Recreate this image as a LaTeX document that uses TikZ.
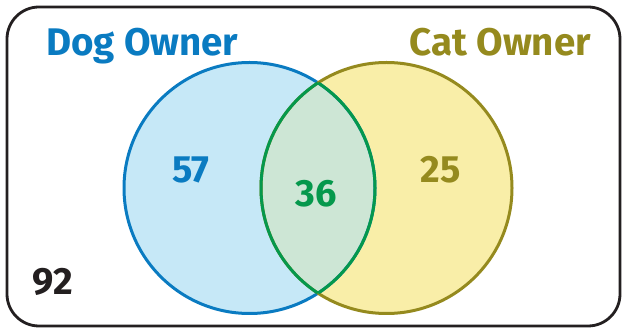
\documentclass[tikz,border=0pt]{standalone}
\usepackage{fontspec}
\setmainfont{Fira Sans}
\definecolor{dogblue}{HTML}{0A7BC1}
\definecolor{dogfill}{HTML}{C6E8F7}
\definecolor{catolive}{HTML}{958A1E}
\definecolor{catfill}{HTML}{F9EEA8}
\definecolor{bothgreen}{HTML}{05984C}
\definecolor{bothfill}{HTML}{CDE6D5}
\definecolor{nonecol}{HTML}{231F20}
\begin{document}
\begin{tikzpicture}[x=1pt,y=1pt,
  setcircle/.style={circle, minimum size=251pt, inner sep=0pt, line width=3pt},
  lbl/.style={font=\fontsize{38.5}{42}\selectfont\bfseries, inner sep=0pt},
  num/.style={font=\fontsize{38}{40}\selectfont\bfseries, inner sep=0pt}]
\useasboundingbox (0,0) rectangle (624,329);
\node[draw=nonecol, line width=2.8pt, rounded corners=32pt, minimum width=613pt, minimum height=319pt, inner sep=0pt] (frame) at (313.5,162.5) {};
\node[setcircle, fill=dogfill] (dog) at (249.5,141) {};
\node[setcircle, fill=catfill] (cat) at (386.5,141) {};
\begin{scope}
  \clip (249.5,141) circle (125.5pt);
  \fill[bothfill] (386.5,141) circle (125.5pt);
\end{scope}
\node[setcircle, draw=dogblue] at (dog) {};
\node[setcircle, draw=catolive] at (cat) {};
\begin{scope}
  \clip (249.5,141) circle (125.5pt);
  \draw[bothgreen, line width=3pt] (386.5,141) circle (125.5pt);
\end{scope}
\begin{scope}
  \clip (386.5,141) circle (125.5pt);
  \draw[bothgreen, line width=3pt] (249.5,141) circle (125.5pt);
\end{scope}
\node[lbl, text=dogblue, anchor=base west] (doglbl) at (46,273) {Dog Owner};
\node[lbl, text=catolive, anchor=base east] (catlbl) at (591,273) {Cat Owner};
\node[num, text=dogblue] (n57) at (191,159) {57};
\node[num, text=bothgreen] (n36) at (316,135.5) {36};
\node[num, text=catolive] (n25) at (441,159) {25};
\node[num, text=nonecol] (n92) at (53,47) {92};
\end{tikzpicture}
\end{document}
